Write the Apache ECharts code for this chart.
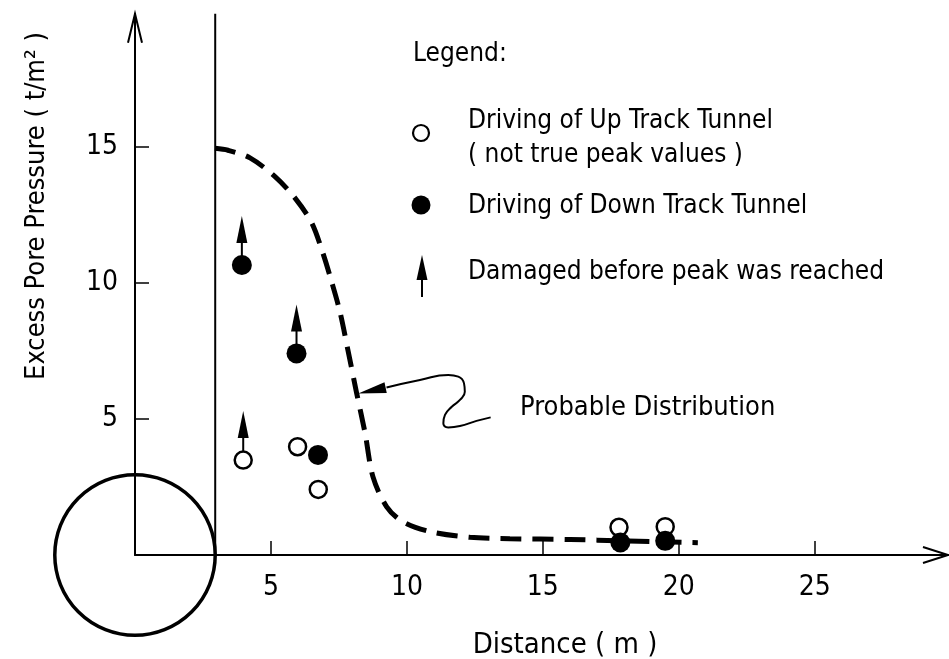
<!DOCTYPE html>
<html>
<head>
<meta charset="utf-8">
<script src="https://cdn.jsdelivr.net/npm/echarts@6.0.0/dist/echarts.min.js"></script>
<style>
  html, body { margin: 0; padding: 0; background: #fff; }
  #main { width: 949px; height: 659px; }
</style>
</head>
<body>
<div id="main"></div>
<script>
// excess pore pressure vs distance from tunnel
var xMax = 29.9, yMax = 19.9;
var xTicks = [5, 10, 15, 20, 25];
var yTicks = [5, 10, 15];
var tunnelRadius = 2.95;

var upTrack = [[3.98, 3.49], [5.98, 3.98], [6.74, 2.41], [17.8, 1.02], [19.5, 1.04]];
var downTrack = [[3.93, 10.66], [5.94, 7.41], [6.73, 3.68], [17.85, 0.46], [19.5, 0.52]];
var damaged = [[3.93, 10.66], [5.94, 7.41], [3.98, 3.49]];

var probable = [[2.94, 14.95], [3.42, 14.88], [4.23, 14.6], [5.15, 13.91], [5.88, 13.13],
  [6.5, 12.21], [6.91, 11.1], [7.23, 10.05], [7.54, 8.93], [7.83, 7.54], [8.15, 5.96],
  [8.46, 4.49], [8.75, 2.88], [9.25, 1.78], [9.85, 1.22], [10.85, 0.86], [12.32, 0.65],
  [13.79, 0.6], [16, 0.57], [18, 0.52], [20.7, 0.45]];

// pointer from label to the curve, first point is the arrow tip
var pointer = [[8.21, 5.94], [9.25, 6.16], [10.48, 6.43], [11.52, 6.62], [11.89, 6.56],
  [12.1, 6.31], [12.13, 6.0], [11.95, 5.7], [11.65, 5.45], [11.4, 5.15], [11.34, 4.84],
  [11.52, 4.69], [11.95, 4.74], [12.56, 4.93], [13.08, 5.06]];

var FONT = '"DejaVu Sans Condensed", "DejaVu Sans", sans-serif';

var chart = echarts.init(document.getElementById('main'), null, { renderer: 'canvas' });

function renderTunnel(params, api) {
  var c = api.coord([0, 0]);
  var r = api.size([tunnelRadius, 0])[0];
  var wallTop = api.coord([tunnelRadius, yMax]);
  var wallBot = api.coord([tunnelRadius, 0]);
  var xEnd = api.coord([xMax, 0]);
  var yEnd = api.coord([0, yMax]);
  var ln = { stroke: '#000', lineWidth: 2, fill: null };
  return {
    type: 'group',
    children: [
      { type: 'circle', shape: { cx: c[0], cy: c[1], r: r }, style: { stroke: '#000', lineWidth: 3.5, fill: null } },
      { type: 'line', shape: { x1: wallTop[0], y1: wallTop[1], x2: wallBot[0], y2: wallBot[1] }, style: ln },
      { type: 'polyline', shape: { points: [[xEnd[0] - 25, xEnd[1] - 8], xEnd, [xEnd[0] - 25, xEnd[1] + 8]] }, style: ln },
      { type: 'polyline', shape: { points: [[yEnd[0] - 7, yEnd[1] + 29], yEnd, [yEnd[0] + 7, yEnd[1] + 29]] }, style: ln }
    ]
  };
}

function renderDamaged(params, api) {
  var p = api.coord([api.value(0), api.value(1)]);
  return {
    type: 'group',
    children: [
      { type: 'line', shape: { x1: p[0], y1: p[1] - 8, x2: p[0], y2: p[1] - 24 }, style: { stroke: '#000', lineWidth: 2 } },
      { type: 'polygon', shape: { points: [[p[0], p[1] - 49], [p[0] - 5.5, p[1] - 22], [p[0] + 5.5, p[1] - 22]] }, style: { fill: '#000' } }
    ]
  };
}

function renderPointerHead(params, api) {
  var tip = api.coord(pointer[0]);
  var base = api.coord(pointer[1]);
  var dx = base[0] - tip[0], dy = base[1] - tip[1];
  var len = Math.sqrt(dx * dx + dy * dy);
  var ux = dx / len, uy = dy / len;
  var b = [tip[0] + ux * 28, tip[1] + uy * 28];
  var w = 5.5;
  return {
    type: 'polygon',
    shape: { points: [tip, [b[0] - uy * w, b[1] + ux * w], [b[0] + uy * w, b[1] - ux * w]] },
    style: { fill: '#000' }
  };
}

var option = {
  backgroundColor: '#fff',
  animation: false,
  textStyle: { fontFamily: FONT, color: '#000' },
  grid: { left: 135, right: 1, top: 13.7, bottom: 104 },
  xAxis: {
    type: 'value', min: 0, max: xMax, interval: 5,
    axisLine: { lineStyle: { color: '#000', width: 2 } },
    axisTick: { inside: true, length: 14, lineStyle: { color: '#000', width: 1.5 }, customValues: xTicks },
    axisLabel: { customValues: xTicks, fontSize: 28, fontFamily: FONT, color: '#000', margin: 19 },
    splitLine: { show: false }
  },
  yAxis: {
    type: 'value', min: 0, max: yMax, interval: 5,
    axisLine: { lineStyle: { color: '#000', width: 2 } },
    axisTick: { inside: true, length: 14, lineStyle: { color: '#000', width: 1.5 }, customValues: yTicks },
    axisLabel: { customValues: yTicks, fontSize: 28, fontFamily: FONT, color: '#000', margin: 17 },
    splitLine: { show: false }
  },
  graphic: [
    { type: 'text', x: 565, y: 645, style: { text: 'Distance ( m )', fontSize: 29, fontFamily: FONT, fill: '#000', align: 'center', verticalAlign: 'middle' } },
    { type: 'text', x: 37, y: 206, rotation: Math.PI / 2, style: { text: 'Excess Pore Pressure ( t/m² )', fontSize: 27, fontFamily: FONT, fill: '#000', align: 'center', verticalAlign: 'middle' } },
    { type: 'text', x: 413, y: 54, style: { text: 'Legend:', fontSize: 26, fontFamily: FONT, fill: '#000', verticalAlign: 'middle' } },
    { type: 'circle', shape: { cx: 421, cy: 133, r: 8 }, style: { fill: '#fff', stroke: '#000', lineWidth: 2.2 } },
    { type: 'text', x: 468, y: 121, style: { text: 'Driving of Up Track Tunnel', fontSize: 26, fontFamily: FONT, fill: '#000', verticalAlign: 'middle' } },
    { type: 'text', x: 468, y: 155, style: { text: '( not true peak values )', fontSize: 26, fontFamily: FONT, fill: '#000', verticalAlign: 'middle' } },
    { type: 'circle', shape: { cx: 421, cy: 205, r: 9.5 }, style: { fill: '#000' } },
    { type: 'text', x: 468, y: 206, style: { text: 'Driving of Down Track Tunnel', fontSize: 26, fontFamily: FONT, fill: '#000', verticalAlign: 'middle' } },
    { type: 'polygon', shape: { points: [[422, 255], [416.5, 280], [427.5, 280]] }, style: { fill: '#000' } },
    { type: 'line', shape: { x1: 422, y1: 277, x2: 422, y2: 297 }, style: { stroke: '#000', lineWidth: 2 } },
    { type: 'text', x: 468, y: 272, style: { text: 'Damaged before peak was reached', fontSize: 26, fontFamily: FONT, fill: '#000', verticalAlign: 'middle' } },
    { type: 'text', x: 520, y: 408, style: { text: 'Probable Distribution', fontSize: 27, fontFamily: FONT, fill: '#000', verticalAlign: 'middle' } }
  ],
  series: [
    {
      name: 'tunnel', type: 'custom', clip: false, silent: true,
      data: [[0, 0]], renderItem: renderTunnel, z: 1
    },
    {
      name: 'Probable Distribution', type: 'line', data: probable,
      smooth: 0.3, showSymbol: false, symbol: 'none',
      lineStyle: { color: '#000', width: 5, type: [21, 11] }, z: 2
    },
    {
      name: 'pointer', type: 'line', data: pointer.slice(1),
      smooth: 0.5, showSymbol: false, symbol: 'none',
      lineStyle: { color: '#000', width: 2 }, z: 3
    },
    {
      name: 'pointer head', type: 'custom', data: [pointer[0]],
      renderItem: renderPointerHead, z: 3
    },
    {
      name: 'Driving of Up Track Tunnel', type: 'scatter', data: upTrack,
      symbol: 'circle', symbolSize: 17,
      itemStyle: { color: '#fff', borderColor: '#000', borderWidth: 2.5, opacity: 1 }, z: 4
    },
    {
      name: 'Driving of Down Track Tunnel', type: 'scatter', data: downTrack,
      symbol: 'circle', symbolSize: 20,
      itemStyle: { color: '#000', opacity: 1 }, z: 5
    },
    {
      name: 'Damaged before peak was reached', type: 'custom', data: damaged,
      renderItem: renderDamaged, z: 5
    }
  ]
};

chart.setOption(option);
</script>
</body>
</html>
